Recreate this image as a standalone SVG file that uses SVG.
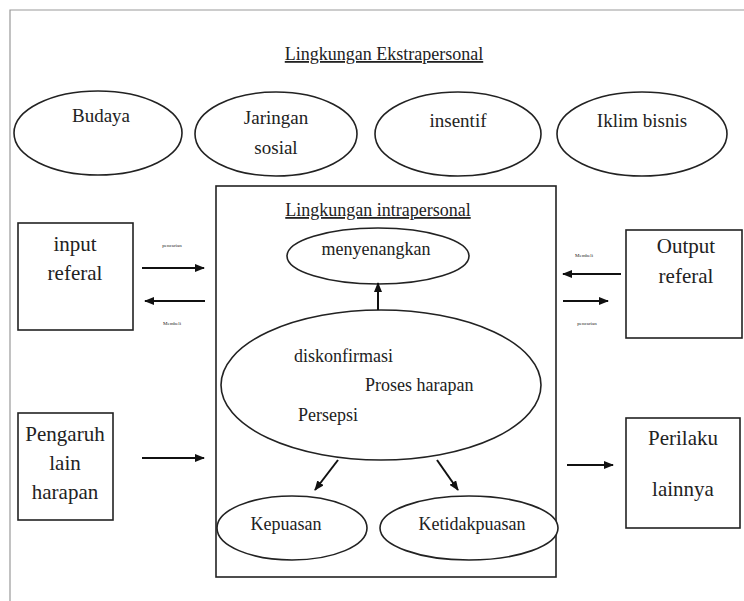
<svg xmlns="http://www.w3.org/2000/svg" width="744" height="601" viewBox="0 0 744 601" font-family="'Liberation Serif', 'Times New Roman', serif">
<defs>
<marker id="ah" markerWidth="10" markerHeight="8" refX="9" refY="4" orient="auto" markerUnits="userSpaceOnUse">
<path d="M0,0 L10,4 L0,8 Z" fill="#111"/>
</marker>
<style>
.sh{fill:#fff;stroke:#222;stroke-width:1.6}
.t{fill:#222;text-anchor:middle}
.m{font-size:19px}
.b{font-size:21px}
.i{font-size:18px}
.s{font-size:5px}
.ts{text-decoration:underline;font-size:18px}
.c{stroke:#111;stroke-width:2;fill:none;marker-end:url(#ah)}
</style>
</defs>
<rect width="744" height="601" fill="#fff"/>
<path d="M10,601 V10 H744" fill="none" stroke="#999" stroke-width="1.2"/>
<text class="t ts" x="384" y="60">Lingkungan Ekstrapersonal</text>
<g id="budaya"><ellipse class="sh" cx="98" cy="133" rx="84" ry="42"/><text class="t m" x="101" y="122">Budaya</text></g>
<g id="jaringan"><ellipse class="sh" cx="276" cy="134" rx="81" ry="42"/><text class="t m" x="276" y="124">Jaringan</text><text class="t m" x="276" y="154">sosial</text></g>
<g id="insentif"><ellipse class="sh" cx="458" cy="134" rx="83" ry="42"/><text class="t m" x="458" y="127">insentif</text></g>
<g id="iklim"><ellipse class="sh" cx="642" cy="134" rx="85" ry="42"/><text class="t m" x="642" y="127">Iklim bisnis</text></g>
<g id="intra"><rect class="sh" x="216" y="186" width="340" height="391"/><text class="t ts" x="378" y="216">Lingkungan intrapersonal</text></g>
<g id="menyenangkan"><ellipse class="sh" cx="378" cy="256" rx="91" ry="28"/><text class="t i" x="376" y="255">menyenangkan</text></g>
<g id="proses"><ellipse class="sh" cx="381" cy="385" rx="160" ry="75"/>
<text class="t i" style="text-anchor:start" x="294" y="362">diskonfirmasi</text>
<text class="t i" style="text-anchor:start" x="365" y="391">Proses harapan</text>
<text class="t i" style="text-anchor:start" x="298" y="421">Persepsi</text></g>
<g id="kepuasan"><ellipse class="sh" cx="292" cy="528" rx="75" ry="32"/><text class="t i" x="286" y="530">Kepuasan</text></g>
<g id="ketidakpuasan"><ellipse class="sh" cx="469" cy="528" rx="89" ry="32"/><text class="t i" x="472" y="530">Ketidakpuasan</text></g>
<g id="input"><rect class="sh" x="18" y="223" width="115" height="107"/><text class="t b" x="75" y="251">input</text><text class="t b" x="75" y="280">referal</text></g>
<g id="pengaruh"><rect class="sh" x="18" y="413" width="95" height="107"/><text class="t b" x="65" y="441">Pengaruh</text><text class="t b" x="65" y="470">lain</text><text class="t b" x="65" y="499">harapan</text></g>
<g id="output"><rect class="sh" x="626" y="230" width="116" height="108"/><text class="t b" x="686" y="253">Output</text><text class="t b" x="686" y="283">referal</text></g>
<g id="perilaku"><rect class="sh" x="626" y="418" width="114" height="110"/><text class="t b" x="683" y="445">Perilaku</text><text class="t b" x="683" y="496">lainnya</text></g>
<g id="connectors">
<path class="c" d="M142,268 H204"/>
<path class="c" d="M205,301 H145"/>
<path class="c" d="M142,458 H204"/>
<path class="c" d="M621,274 H563"/>
<path class="c" d="M563,301 H608"/>
<path class="c" d="M567,465 H613"/>
<path class="c" d="M378,310 V283"/>
<path class="c" d="M338,460 L315,490"/>
<path class="c" d="M437,460 L458,490"/>
<text class="t s" x="172" y="247">pencarian</text>
<text class="t s" x="172" y="325">Membeli</text>
<text class="t s" x="584" y="257">Membeli</text>
<text class="t s" x="587" y="325">pencarian</text>
</g>
</svg>
